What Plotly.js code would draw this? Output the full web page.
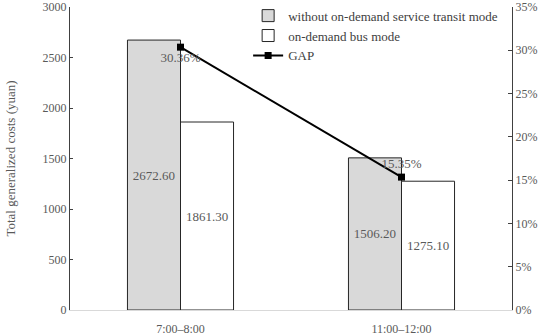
<!DOCTYPE html>
<html>
<head>
<meta charset="utf-8">
<script src="https://cdn.plot.ly/plotly-3.0.1.min.js"></script>
<style>html,body{margin:0;padding:0;background:#fff;}#chart{width:550px;height:335px;}</style>
</head>
<body>
<div id="chart"></div>
<script>
const categories = ["7:00–8:00", "11:00–12:00"];
const withoutOnDemand = [2672.60, 1506.20];
const onDemandBus = [1861.30, 1275.10];
const gap = [0.3036, 0.1535];
const gapLabels = ["30.36%", "15.35%"];
const seriesNames = ["without on-demand service transit mode", "on-demand bus mode", "GAP"];

const FONT = "Liberation Serif, DejaVu Serif, serif";
const GREY = "#595959";

const traces = [
  {
    type: "bar", name: seriesNames[0], x: categories, y: withoutOnDemand,
    marker: {color: "#d9d9d9", line: {color: "#262626", width: 1}},
    text: withoutOnDemand.map(v => v.toFixed(2)),
    textposition: "inside", insidetextanchor: "middle",
    textfont: {family: FONT, size: 13, color: GREY},
    hoverinfo: "none"
  },
  {
    type: "bar", name: seriesNames[1], x: categories, y: onDemandBus,
    marker: {color: "#ffffff", line: {color: "#262626", width: 1}},
    text: onDemandBus.map(v => v.toFixed(2)),
    textposition: "inside", insidetextanchor: "middle",
    textfont: {family: FONT, size: 13, color: GREY},
    hoverinfo: "none"
  },
  {
    type: "scatter", mode: "lines+markers+text", name: seriesNames[2],
    x: categories, y: gap, yaxis: "y2",
    line: {color: "#000000", width: 2},
    marker: {symbol: "square", size: 7, color: "#000000"},
    text: gapLabels, textposition: ["bottom center", "top center"],
    textfont: {family: FONT, size: 13, color: GREY},
    hoverinfo: "none"
  }
];

const layout = {
  width: 550, height: 335,
  margin: {l: 70, r: 38, t: 7, b: 25, pad: 0, autoexpand: false},
  paper_bgcolor: "#fff", plot_bgcolor: "#fff",
  font: {family: FONT, size: 12, color: GREY},
  barmode: "group", bargap: 0.52, bargroupgap: 0,
  showlegend: true,
  legend: {
    x: 0.403, y: 0.998, xanchor: "left", yanchor: "top", yref: "container",
    bgcolor: "rgba(255,255,255,0)", borderwidth: 0,
    font: {family: FONT, size: 13, color: "#404040"},
    tracegroupgap: 0, itemwidth: 30
  },
  xaxis: {
    type: "category",
    showline: true, linecolor: "#d9d9d9", linewidth: 1,
    ticks: "", showgrid: false, zeroline: false,
    tickfont: {family: FONT, size: 12, color: GREY},
    ticklabelstandoff: 8
  },
  yaxis: {
    range: [0, 3000], dtick: 500,
    showline: true, linecolor: "#404040", linewidth: 1,
    ticks: "inside", ticklen: 3, tickcolor: "#404040",
    showgrid: false, zeroline: false,
    tickfont: {family: FONT, size: 12, color: GREY},
    title: {text: "Total generalized costs (yuan)", font: {family: FONT, size: 13, color: GREY}, standoff: 24}
  },
  yaxis2: {
    overlaying: "y", side: "right",
    range: [0, 0.35], dtick: 0.05, tickformat: ".0%",
    showline: true, linecolor: "#404040", linewidth: 1,
    ticks: "inside", ticklen: 4, tickcolor: "#404040",
    showgrid: false, zeroline: false,
    tickfont: {family: FONT, size: 12, color: GREY}
  }
};

Plotly.newPlot("chart", traces, layout, {displayModeBar: false, staticPlot: true});
</script>
</body>
</html>
